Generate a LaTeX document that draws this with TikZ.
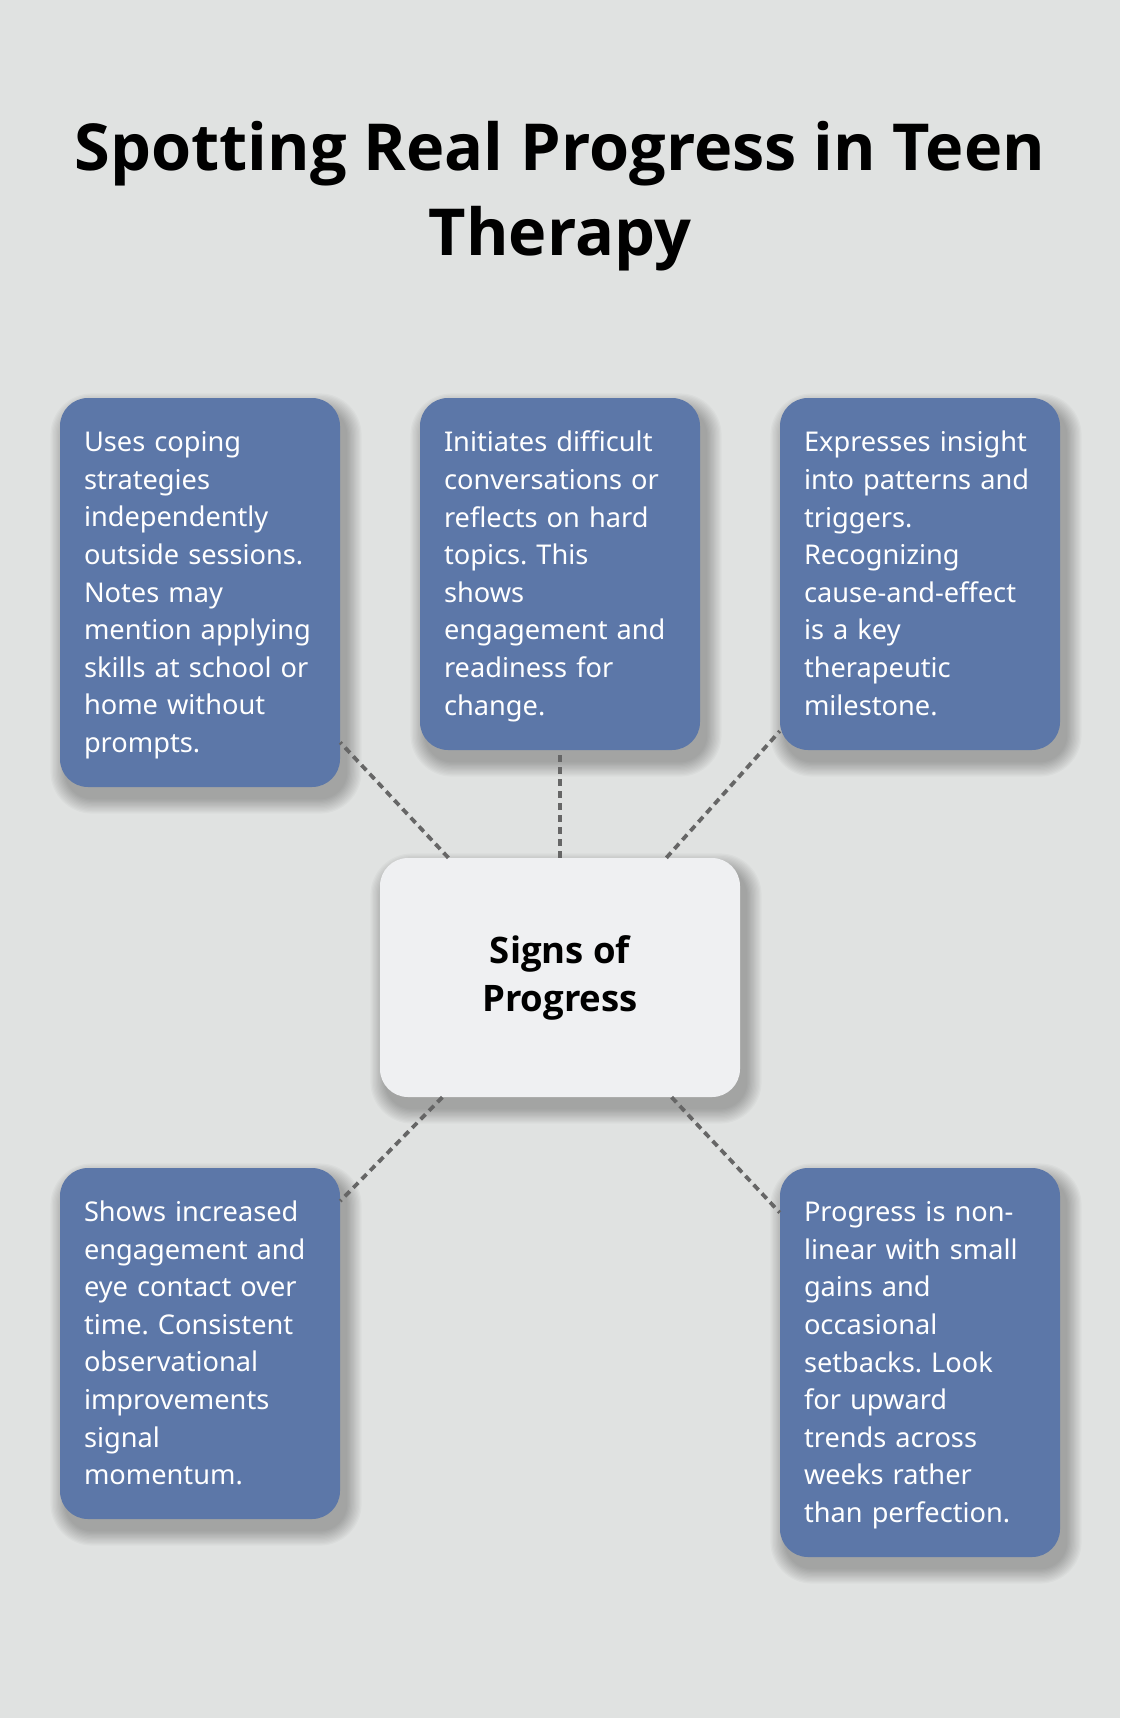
\documentclass[tikz,border=0pt]{standalone}
\usepackage{fontspec}
\setmainfont{Noto Sans}
\newfontfamily\headfont{Open Sans}
\definecolor{bgcol}{HTML}{E0E2E1}
\definecolor{boxblue}{HTML}{5C77A8}
\definecolor{centerfill}{HTML}{EFF0F2}
\definecolor{linegrey}{HTML}{666666}
\newcommand{\bstrut}{\rule[-9.3pt]{0pt}{37.6pt}}
% soft drop shadow: centre x, centre y, width, height
\newcommand{\softshadow}[4]{%
  \foreach \k in {1,...,12}{%
    \pgfmathsetmacro\rr{26+1.3*\k}%
    \fill[black, opacity=0.022, rounded corners=\rr pt]
      (#1-#3/2+6-1.3*\k, #2-#4/2-11-1.3*\k) rectangle (#1+#3/2+6+1.3*\k, #2+#4/2-11+1.3*\k);
  }}
\frenchspacing
\begin{document}
\begin{tikzpicture}[x=1pt,y=1pt,
  card/.style={rectangle, rounded corners=28pt, fill=boxblue, text=white,
    text width=232pt, inner xsep=24pt, inner ysep=0pt, align=left,
    font=\fontsize{27.2}{37.6}\selectfont},
  hub/.style={rectangle, rounded corners=28pt, fill=centerfill, text=black,
    minimum width=360pt, minimum height=239pt, inner sep=0pt, align=center,
    font=\headfont\bfseries\fontsize{36.5}{48}\selectfont},
  conn/.style={draw=linegrey, line width=3.8pt, dash pattern=on 7pt off 5pt},
  titletext/.style={align=center, font=\headfont\bfseries\fontsize{64.8}{85}\selectfont, text=black, inner sep=0pt}
]
\fill[bgcol] (0,0) rectangle (1120,-1718);
\useasboundingbox (0,0) rectangle (1120,-1718);

\softshadow{560}{-977.5}{360}{239}
\softshadow{200}{-592.5}{280}{389}
\softshadow{560}{-574}{280}{352}
\softshadow{920}{-574}{280}{352}
\softshadow{200}{-1343.5}{280}{351}
\softshadow{920}{-1362.5}{280}{389}

\node[titletext, anchor=base] (title) at (560,-255) {Spotting Real Progress in Teen\\Therapy};

\node[hub] (c) at (560,-977.5) {Signs of\\Progress};

\node[card, minimum height=389pt] (tl) at (200,-592.5) {\bstrut Uses coping\\strategies\\independently\\outside sessions.\\Notes may\\mention applying\\skills at school or\\home without\\prompts.\bstrut};
\node[card, minimum height=352pt] (tm) at (560,-574) {\bstrut Initiates difficult\\conversations or\\reflects on hard\\topics. This\\shows\\engagement and\\readiness for\\change.\bstrut};
\node[card, minimum height=352pt] (tr) at (920,-574) {\bstrut Expresses insight\\into patterns and\\triggers.\\Recognizing\\cause-and-effect\\is a key\\therapeutic\\milestone.\bstrut};
\node[card, minimum height=351pt] (bl) at (200,-1343.5) {\bstrut Shows increased\\engagement and\\eye contact over\\time. Consistent\\observational\\improvements\\signal\\momentum.\bstrut};
\node[card, minimum height=389pt] (br) at (920,-1362.5) {\bstrut Progress is non-\\linear with small\\gains and\\occasional\\setbacks. Look\\for upward\\trends across\\weeks rather\\than perfection.\bstrut};

\draw[conn] (c) -- (tl);
\draw[conn] (c) -- (tm);
\draw[conn] (c) -- (tr);
\draw[conn] (c) -- (bl);
\draw[conn] (c) -- (br);
\end{tikzpicture}
\end{document}
